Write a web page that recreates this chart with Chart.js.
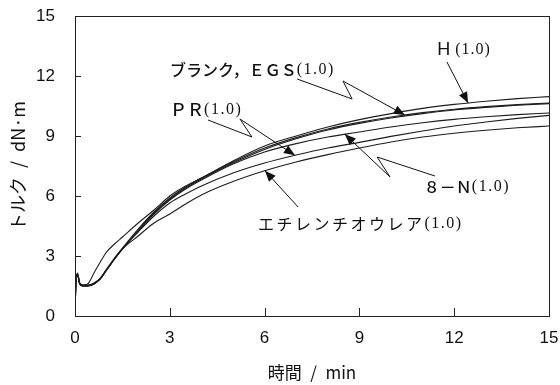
<!DOCTYPE html>
<html>
<head>
<meta charset="utf-8">
<script src="https://cdn.jsdelivr.net/npm/chart.js@4.4.1/dist/chart.umd.min.js"></script>
<style>
  html, body { margin: 0; padding: 0; background: #fff; }
  #wrap { width: 560px; height: 385px; }
</style>
</head>
<body>
<div id="wrap"><canvas id="chart"></canvas></div>
<script>
// sample times (min)
const times = [0, 0.03, 0.08, 0.15, 0.25, 0.4, 0.6, 0.8, 1, 1.25, 1.5, 2, 2.5, 3, 3.5, 4, 5, 6, 7, 8, 9, 10, 11, 12, 13, 14, 15];

// torque (dN·m)
const torqueH     = [0, 1.8, 2.15, 1.65, 1.55, 1.6, 2.15, 2.7, 3.2, 3.6, 3.95, 4.65, 5.3, 6.0, 6.5, 6.9, 7.75, 8.5, 9.0, 9.45, 9.82, 10.12, 10.38, 10.58, 10.74, 10.87, 10.97];
const torqueBlank = [0, 1.75, 2.1, 1.65, 1.55, 1.55, 1.65, 1.9, 2.35, 2.9, 3.4, 4.35, 5.2, 5.9, 6.45, 6.9, 7.7, 8.4, 8.92, 9.35, 9.68, 9.95, 10.17, 10.34, 10.47, 10.57, 10.65];
const torqueEGS   = [0, 1.7, 2.05, 1.6, 1.52, 1.52, 1.62, 1.88, 2.3, 2.85, 3.35, 4.3, 5.15, 5.85, 6.4, 6.85, 7.65, 8.33, 8.86, 9.3, 9.63, 9.9, 10.12, 10.3, 10.43, 10.54, 10.62];
const torque8N    = [0, 1.7, 2.1, 1.6, 1.5, 1.5, 1.6, 1.85, 2.3, 2.85, 3.35, 4.25, 5.1, 5.8, 6.35, 6.8, 7.6, 8.2, 8.62, 8.95, 9.2, 9.45, 9.66, 9.83, 9.96, 10.07, 10.15];
const torquePR    = [0, 1.7, 2.05, 1.6, 1.5, 1.5, 1.6, 1.85, 2.3, 2.85, 3.35, 4.2, 5.0, 5.65, 6.1, 6.5, 7.15, 7.65, 8.05, 8.4, 8.68, 8.98, 9.25, 9.5, 9.7, 9.88, 10.03];
const torqueETU   = [0, 1.7, 2.05, 1.6, 1.5, 1.5, 1.6, 1.85, 2.3, 2.85, 3.35, 4.0, 4.65, 5.1, 5.6, 6.05, 6.72, 7.26, 7.7, 8.07, 8.4, 8.7, 8.95, 9.14, 9.29, 9.41, 9.5];

const xTicks = [0, 3, 6, 9, 12, 15];
const yTicks = [0, 3, 6, 9, 12, 15];

const series = [
  { name: "H", values: torqueH },
  { name: "blank", values: torqueBlank },
  { name: "EGS", values: torqueEGS },
  { name: "8-N", values: torque8N },
  { name: "PR", values: torquePR },
  { name: "ETU", values: torqueETU },
];

// fonts
const jpSans = '"Noto Sans CJK JP", sans-serif';
const latin = '"Liberation Sans Narrow", "Liberation Sans", Arial, sans-serif';
const serif = '"Liberation Serif", "DejaVu Serif", serif';

// callouts: label position and leader bends in data units, arrow tip sits on the curve at tipX
const callouts = [
  { series: "H", label: [11.46, 13.3], tipX: 12.44,
    leader: [[11.77, 12.7]],
    parts: [{ text: "H", font: `18px "Liberation Sans", Arial` }, { text: " (1.0)", font: `16px ${serif}`, spacing: "1px" }] },
  { series: "blank", label: [3.01, 12.3], tipX: 10.44,
    leader: [[7.03, 11.85], [8.77, 10.85], [8.48, 11.75]],
    parts: [{ text: "ブランク，ＥＧＳ", font: `500 16px ${jpSans}` }, { text: "(1.0)", font: `16px ${serif}`, spacing: "1.5px" }] },
  { series: "PR", label: [3.01, 10.3], tipX: 6.96,
    leader: [[4.21, 9.8], [5.6, 8.95], [5.22, 9.85]],
    parts: [{ text: "ＰＲ", font: `500 17px ${jpSans}` }, { text: "(1.0)", font: `16px ${serif}`, spacing: "1.5px" }] },
  { series: "8-N", label: [11.04, 6.45], tipX: 8.54,
    leader: [[11.39, 7.0], [9.56, 7.95], [9.97, 6.95]],
    parts: [{ text: "８－Ｎ", font: `500 16px ${jpSans}` }, { text: "(1.0)", font: `16px ${serif}`, spacing: "1.5px" }] },
  { series: "ETU", label: [5.79, 4.6], tipX: 6.01,
    leader: [[7.06, 5.45]],
    parts: [{ text: "エチレンチオウレア", font: `16px ${jpSans}`, spacing: "2.5px" }, { text: "(1.0)", font: `16px ${serif}`, spacing: "1.5px" }] },
];

const valueAt = (values, t) => {
  for (let i = 1; i < times.length; i++) {
    if (t <= times[i]) {
      const f = (t - times[i - 1]) / (times[i] - times[i - 1]);
      return values[i - 1] + f * (values[i] - values[i - 1]);
    }
  }
  return values[values.length - 1];
};

const frameAndTicks = {
  id: "frameAndTicks",
  afterDraw(chart) {
    const { ctx, chartArea: a, scales: { x, y } } = chart;
    ctx.save();
    ctx.strokeStyle = "#222";
    ctx.lineWidth = 1;
    ctx.strokeRect(a.left + 0.5, a.top + 0.5, a.right - a.left, a.bottom - a.top);
    ctx.beginPath();
    yTicks.slice(1, -1).forEach(v => {
      const py = Math.round(y.getPixelForValue(v)) + 0.5;
      ctx.moveTo(a.left, py);
      ctx.lineTo(a.left + 6, py);
    });
    xTicks.slice(1, -1).forEach(v => {
      const px = Math.round(x.getPixelForValue(v)) + 0.5;
      ctx.moveTo(px, a.bottom);
      ctx.lineTo(px, a.bottom - 8);
    });
    ctx.stroke();
    ctx.restore();
  },
};

const calloutPlugin = {
  id: "callouts",
  afterDatasetsDraw(chart) {
    const { ctx, scales: { x, y } } = chart;
    const P = ([dx, dy]) => [x.getPixelForValue(dx), y.getPixelForValue(dy)];
    ctx.save();
    ctx.strokeStyle = "#111";
    ctx.fillStyle = "#111";
    ctx.lineWidth = 1;
    callouts.forEach(c => {
      const s = series.find(s => s.name === c.series);
      const tip = P([c.tipX, valueAt(s.values, c.tipX)]);
      const pts = c.leader.map(P);
      pts.push(tip);
      ctx.beginPath();
      ctx.moveTo(pts[0][0], pts[0][1]);
      pts.slice(1).forEach(p => ctx.lineTo(p[0], p[1]));
      ctx.stroke();

      // arrow head
      const prev = pts[pts.length - 2];
      const ang = Math.atan2(tip[1] - prev[1], tip[0] - prev[0]);
      const len = 11, hw = 4.5;
      ctx.beginPath();
      ctx.moveTo(tip[0], tip[1]);
      ctx.lineTo(tip[0] - len * Math.cos(ang) + hw * Math.sin(ang), tip[1] - len * Math.sin(ang) - hw * Math.cos(ang));
      ctx.lineTo(tip[0] - len * Math.cos(ang) - hw * Math.sin(ang), tip[1] - len * Math.sin(ang) + hw * Math.cos(ang));
      ctx.closePath();
      ctx.fill();

      // label text
      let [lx, ly] = P(c.label);
      ctx.textAlign = "left";
      ctx.textBaseline = "middle";
      c.parts.forEach(p => {
        ctx.font = p.font;
        ctx.letterSpacing = p.spacing || "0px";
        ctx.fillText(p.text, lx, ly);
        lx += ctx.measureText(p.text).width;
      });
      ctx.letterSpacing = "0px";
    });
    ctx.restore();
  },
};

new Chart(document.getElementById("chart"), {
  type: "line",
  plugins: [frameAndTicks, calloutPlugin],
  data: {
    datasets: series.map(s => ({
      label: s.name,
      data: times.map((t, i) => ({ x: t, y: s.values[i] })),
      borderColor: "#1c1c1c",
      borderWidth: 1.1,
      pointRadius: 0,
      fill: false,
      cubicInterpolationMode: "monotone",
    })),
  },
  options: {
    responsive: true,
    maintainAspectRatio: false,
    animation: false,
    layout: { padding: { top: 16, right: 11, left: 0, bottom: 0 } },
    plugins: { legend: { display: false }, tooltip: { enabled: false } },
    scales: {
      x: {
        type: "linear", min: 0, max: 15,
        afterBuildTicks: s => { s.ticks = xTicks.map(v => ({ value: v })); },
        afterFit: s => { s.height = 69; s.paddingLeft = 0; s.paddingRight = 0; },
        ticks: { color: "#111", padding: 12, font: { family: latin, size: 17 } },
        grid: { display: false, drawTicks: false },
        border: { display: false },
        title: { display: true, text: "時間\u2002/\u2002min", color: "#111",
          font: { family: jpSans, size: 17 }, padding: { top: 0, bottom: 2 } },
      },
      y: {
        type: "linear", min: 0, max: 15,
        afterBuildTicks: s => { s.ticks = yTicks.map(v => ({ value: v })); },
        afterFit: s => { s.width = 75; s.paddingTop = 0; s.paddingBottom = 0; },
        ticks: { color: "#111", padding: 20, font: { family: latin, size: 17 } },
        grid: { display: false, drawTicks: false },
        border: { display: false },
        title: { display: true, text: "トルク\u2002/\u2002dN·m", color: "#111",
          font: { family: jpSans, size: 18 }, padding: { top: 7, bottom: 0 } },
      },
    },
  },
});
</script>
</body>
</html>
